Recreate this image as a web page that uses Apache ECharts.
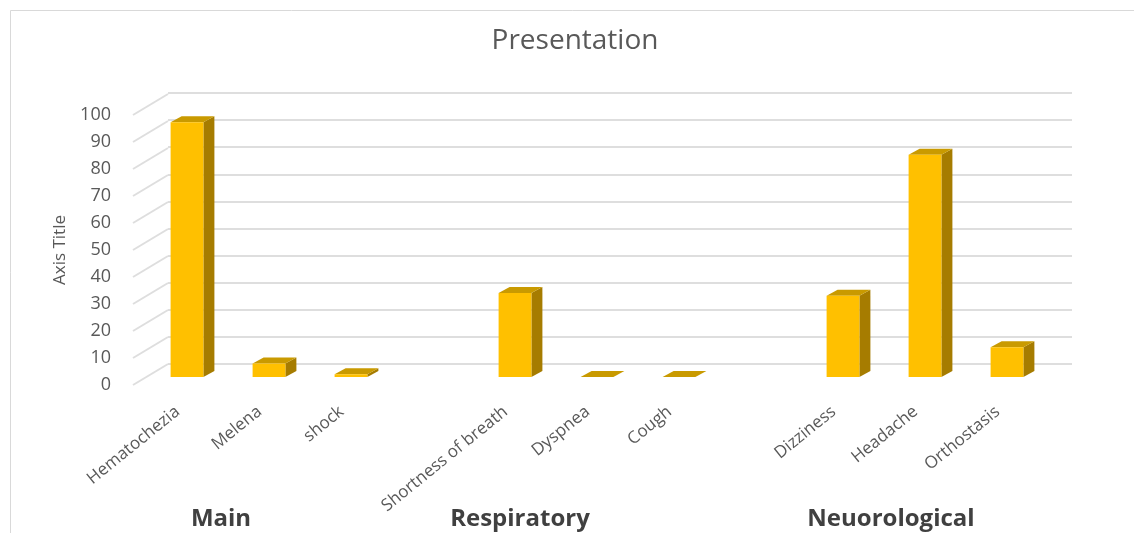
<!DOCTYPE html>
<html>
<head>
<meta charset="utf-8">
<title>Presentation</title>
<script src="https://cdn.jsdelivr.net/npm/echarts@6/dist/echarts.min.js"></script>
<style>
  html, body { margin: 0; padding: 0; background: #ffffff; }
  #chart { width: 1134px; height: 533px; }
</style>
</head>
<body>
<div id="chart"></div>
<script>
// Excel-style 3D column chart, faked in 2D: a back wall grid, a front label grid joined to it by
// slanted side-wall lines, and a bar grid in between where every column is a custom-drawn box.
const groups = ['Main', 'Respiratory', 'Neuorological'];
const mainItems = ['Hematochezia', 'Melena', 'shock'];
const mainValues = [94, 5, 1];
const respItems = ['Shortness of breath', 'Dyspnea', 'Cough'];
const respValues = [31, 0, 0];
const neuroItems = ['Dizziness', 'Headache', 'Orthostasis'];
const neuroValues = [30, 82, 11];
const yTicks = [0, 10, 20, 30, 40, 50, 60, 70, 80, 90, 100];

// one blank slot between groups, like Excel's multi-level category gap
const categories = [...mainItems, '', ...respItems, '', ...neuroItems];
const values = [...mainValues, null, ...respValues, null, ...neuroValues];

const FONT = '"Open Sans", "Noto Sans", sans-serif';
const TEXT = '#595959';
const GRID_LINE = '#dedede';
const DEPTH = [11, -6];       // bar box depth, px
const WALL = [35, -21];       // front label edge -> back wall, px
const groupLabelX = [221, 520, 891];

const chart = echarts.init(document.getElementById('chart'), null, { renderer: 'canvas' });

const option = {
  backgroundColor: '#ffffff',
  animation: false,
  title: {
    text: 'Presentation', left: 575, textAlign: 'center', top: 27, padding: 0,
    textStyle: { fontFamily: FONT, fontSize: 28, fontWeight: 'normal', color: TEXT },
  },
  grid: [
    { left: 168, right: 62, top: 93, bottom: 169 },     // back wall
    { left: 133, right: 966, top: 115, bottom: 148 },   // front value labels
    { left: 146, right: 86, top: 106, bottom: 156 },    // bars
  ],
  xAxis: [
    { gridIndex: 0, type: 'value', show: false, min: 0, max: 1 },
    { gridIndex: 1, type: 'value', show: false, min: 0, max: 1 },
    {
      gridIndex: 2, type: 'category', data: categories,
      axisLine: { show: false }, axisTick: { show: false },
      axisLabel: {
        interval: 0, rotate: 39, margin: 25, padding: [0, 12, 0, 0],
        fontFamily: FONT, fontSize: 17, color: TEXT,
      },
    },
  ],
  yAxis: [
    {
      gridIndex: 0, type: 'value', min: 0, max: 100, interval: 10,
      axisLine: { show: false }, axisTick: { show: false }, axisLabel: { show: false },
      splitLine: { lineStyle: { color: GRID_LINE, width: 2 } },
    },
    {
      gridIndex: 1, type: 'value', min: 0, max: 100, interval: 10,
      axisLine: { show: false }, axisTick: { show: false }, splitLine: { show: false },
      axisLabel: { margin: 22, fontFamily: FONT, fontSize: 18, color: TEXT },
      name: 'Axis Title', nameLocation: 'middle', nameGap: 64,
      nameTextStyle: { fontFamily: FONT, fontSize: 17, color: TEXT },
    },
    { gridIndex: 2, type: 'value', min: 0, max: 100, show: false },
  ],
  series: [
    {
      // side-wall lines from each front label to its back-wall gridline
      type: 'custom', xAxisIndex: 1, yAxisIndex: 1, silent: true,
      data: yTicks.map((t) => [0, t]),
      renderItem(params, api) {
        const p = api.coord([0, api.value(1)]);
        return {
          type: 'line',
          shape: { x1: p[0], y1: p[1], x2: p[0] + WALL[0], y2: p[1] + WALL[1] },
          style: { stroke: GRID_LINE, lineWidth: 2 },
        };
      },
    },
    {
      type: 'custom', xAxisIndex: 2, yAxisIndex: 2, silent: true,
      data: values.map((v, i) => [i, v]).filter((d) => d[1] != null),
      renderItem(params, api) {
        const i = api.value(0);
        const base = api.coord([i, 0]);
        const top = api.coord([i, api.value(1)]);
        const hw = api.size([1, 0])[0] * 0.2;
        const x0 = base[0] - hw, x1 = base[0] + hw, yb = base[1], yt = top[1];
        const [dx, dy] = DEPTH;
        return {
          type: 'group',
          children: [
            { type: 'polygon', shape: { points: [[x1, yb], [x1 + dx, yb + dy], [x1 + dx, yt + dy], [x1, yt]] }, style: { fill: '#a67c00' } },
            { type: 'polygon', shape: { points: [[x0, yt], [x0 + dx, yt + dy], [x1 + dx, yt + dy], [x1, yt]] }, style: { fill: '#c99a00' } },
            { type: 'rect', shape: { x: x0, y: yt, width: x1 - x0, height: yb - yt }, style: { fill: '#ffc000' } },
          ],
        };
      },
    },
  ],
  graphic: [
    { type: 'rect', left: 8, top: 8, shape: { width: 1200, height: 600 }, style: { fill: 'none', stroke: '#d9d9d9', lineWidth: 1 }, z: -1 },
    ...groups.map((g, k) => ({
      type: 'text', x: groupLabelX[k], y: 519,
      style: { text: g, fontFamily: FONT, fontSize: 24, fontWeight: 'bold', fill: '#404040', align: 'center', verticalAlign: 'middle' },
    })),
  ],
};

chart.setOption(option);
</script>
</body>
</html>
